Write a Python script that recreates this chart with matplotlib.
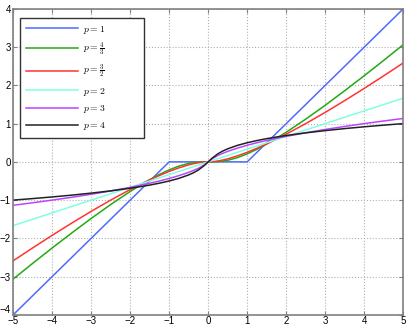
import numpy as np
import matplotlib
matplotlib.use('Agg')
import matplotlib.pyplot as plt

plt.rcParams['mathtext.fontset'] = 'cm'

x = [-5, -4.5, -4, -3.5, -3, -2.5, -2, -1.75, -1.5, -1.25, -1, -0.75, -0.5, -0.375, -0.25, -0.1,
     0, 0.1, 0.25, 0.375, 0.5, 0.75, 1, 1.25, 1.5, 1.75, 2, 2.5, 3, 3.5, 4, 4.5, 5]

y_p1 = [-4, -3.5, -3, -2.5, -2, -1.5, -1, -0.75, -0.5, -0.25, 0, 0, 0, 0, 0, 0,
        0, 0, 0, 0, 0, 0, 0, 0.25, 0.5, 0.75, 1, 1.5, 2, 2.5, 3, 3.5, 4]
y_p43 = [-3.064, -2.654, -2.252, -1.861, -1.480, -1.116, -0.775, -0.616, -0.466, -0.329, -0.209, -0.110, -0.041, -0.019, -0.006, -0.0004,
         0, 0.0004, 0.006, 0.019, 0.041, 0.110, 0.209, 0.329, 0.466, 0.616, 0.775, 1.116, 1.480, 1.861, 2.252, 2.654, 3.064]
y_p32 = [-2.587, -2.25, -1.921, -1.602, -1.294, -1.0, -0.724, -0.594, -0.471, -0.356, -0.25, -0.157, -0.079, -0.048, -0.023, -0.004,
         0, 0.004, 0.023, 0.048, 0.079, 0.157, 0.25, 0.356, 0.471, 0.594, 0.724, 1.0, 1.294, 1.602, 1.921, 2.25, 2.587]
y_p2 = [-1.667, -1.5, -1.333, -1.167, -1.0, -0.833, -0.667, -0.583, -0.5, -0.417, -0.333, -0.25, -0.167, -0.125, -0.083, -0.033,
        0, 0.033, 0.083, 0.125, 0.167, 0.25, 0.333, 0.417, 0.5, 0.583, 0.667, 0.833, 1.0, 1.167, 1.333, 1.5, 1.667]
y_p3 = [-1.135, -1.069, -1.0, -0.926, -0.847, -0.761, -0.667, -0.615, -0.560, -0.5, -0.434, -0.360, -0.274, -0.224, -0.167, -0.081,
        0, 0.081, 0.167, 0.224, 0.274, 0.360, 0.434, 0.5, 0.560, 0.615, 0.667, 0.761, 0.847, 0.926, 1.0, 1.069, 1.135]
y_p4 = [-1.0, -0.960, -0.917, -0.870, -0.817, -0.758, -0.689, -0.650, -0.607, -0.557, -0.5, -0.431, -0.341, -0.284, -0.212, -0.096,
        0, 0.096, 0.212, 0.284, 0.341, 0.431, 0.5, 0.557, 0.607, 0.650, 0.689, 0.758, 0.817, 0.870, 0.917, 0.960, 1.0]

labels = [r'$p=1$', r'$p=\frac{4}{3}$', r'$p=\frac{3}{2}$', r'$p=2$', r'$p=3$', r'$p=4$']
colors = ['#4d6bff', '#22aa11', '#ff3333', '#80ffe0', '#bb44ff', '#222222']
series = [y_p1, y_p43, y_p32, y_p2, y_p3, y_p4]

fig = plt.figure(figsize=(4.09, 3.27), dpi=100)
ax = fig.add_axes([0.032, 0.037, 0.954, 0.936])

for ys, lab, c in zip(series, labels, colors):
    ax.plot(x, ys, color=c, lw=1.1, label=lab)

ax.set_xlim(-5, 5)
ax.set_ylim(-4, 4)
ax.set_xticks(range(-5, 6))
ax.set_yticks(range(-4, 5))
ax.grid(True, linestyle=':', color='#b0b0b0', lw=0.8)
ax.tick_params(direction='in', top=True, right=True, labelsize=7, length=3,
               color='#808080', pad=1.5)
ax.tick_params(axis='x', pad=1)
for t in ax.get_xticklabels() + ax.get_yticklabels():
    t.set_family('Liberation Sans')
for t in ax.get_yticklabels():
    t.set_verticalalignment('center_baseline')
ax.get_yticklabels()[0].set_verticalalignment('bottom')
for s in ax.spines.values():
    s.set_color('#808080')
    s.set_linewidth(1.2)

leg = ax.legend(loc='upper left', fontsize=7, handlelength=5.4, labelspacing=0.55,
                handletextpad=0.5, fancybox=False, framealpha=1, borderpad=0.6,
                borderaxespad=0, mode='expand',
                bbox_to_anchor=(0.018, 0.0, 0.318, 0.971))
leg.get_frame().set_edgecolor('#333333')
leg.get_frame().set_linewidth(1.0)

fig.savefig('out.png', dpi=100)
